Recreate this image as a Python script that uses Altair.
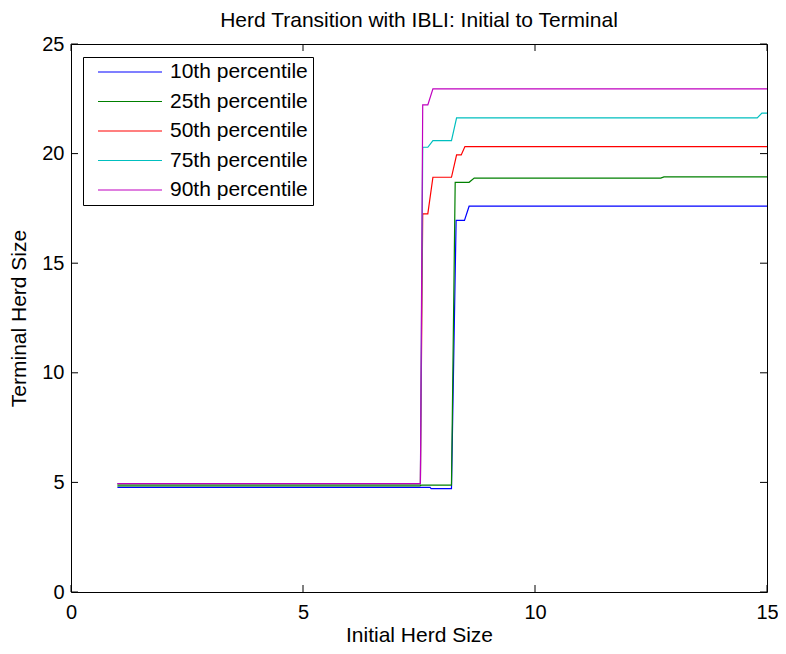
import altair as alt
import pandas as pd

# ---- data ----
series_names = ["10th percentile", "25th percentile", "50th percentile",
                "75th percentile", "90th percentile"]
series_colors = ["#0000ff", "#008000", "#ff0000", "#00bfbf", "#bf00bf"]

x_p10 = [1, 7.74, 7.76, 8.20, 8.30, 8.48, 8.58, 15]
y_p10 = [4.77, 4.77, 4.72, 4.72, 16.95, 16.95, 17.60, 17.60]

x_p25 = [1, 7.52, 7.56, 8.20, 8.28, 8.58, 8.69, 12.71, 12.78, 15]
y_p25 = [4.84, 4.84, 4.88, 4.88, 18.69, 18.69, 18.88, 18.88, 18.94, 18.94]

x_p50 = [1, 7.53, 7.58, 7.69, 7.80, 8.20, 8.31, 8.41, 8.49, 15]
y_p50 = [4.92, 4.92, 17.25, 17.25, 18.92, 18.92, 19.94, 19.94, 20.32, 20.32]

x_p75 = [1, 7.53, 7.58, 7.69, 7.80, 8.20, 8.31, 14.79, 14.89, 15]
y_p75 = [4.93, 4.93, 20.29, 20.29, 20.59, 20.59, 21.63, 21.63, 21.85, 21.85]

x_p90 = [1, 7.53, 7.58, 7.69, 7.80, 15]
y_p90 = [4.95, 4.95, 22.22, 22.22, 22.95, 22.95]

x_ticks = [0, 5, 10, 15]
y_ticks = [0, 5, 10, 15, 20, 25]

FONT = "Liberation Sans"
W, H = 696, 548
TICK = 7

rows = []
for name, xs, ys in zip(series_names,
                        [x_p10, x_p25, x_p50, x_p75, x_p90],
                        [y_p10, y_p25, y_p50, y_p75, y_p90]):
    for i, (a, b) in enumerate(zip(xs, ys)):
        rows.append({"series": name, "x": a, "y": b, "i": i})
df = pd.DataFrame(rows)

xscale = alt.Scale(domain=[0, 15], nice=False, zero=False)
yscale = alt.Scale(domain=[0, 25], nice=False, zero=False)

xaxis = alt.Axis(values=x_ticks, ticks=False, tickSize=0, domain=False, grid=False,
                 labelFlush=False, labelOverlap=False,
                 labelPadding=10, titlePadding=2, title="Initial Herd Size")
yaxis = alt.Axis(values=y_ticks, ticks=False, tickSize=0, domain=False, grid=False,
                 labelFlush=False, labelOverlap=False,
                 labelPadding=7, titlePadding=12, title="Terminal Herd Size")

lines = alt.Chart(df).mark_line(strokeWidth=1.2, interpolate="linear").encode(
    x=alt.X("x:Q", scale=xscale, axis=xaxis),
    y=alt.Y("y:Q", scale=yscale, axis=yaxis),
    color=alt.Color("series:N",
                    scale=alt.Scale(domain=series_names, range=series_colors),
                    legend=alt.Legend(title=None, orient="none", legendX=12, legendY=13,
                                      symbolType="stroke", symbolSize=4096,
                                      symbolStrokeWidth=1.2, clipHeight=20,
                                      rowPadding=8.5, labelOffset=7, symbolOffset=9,
                                      padding=5, strokeColor="black", fillColor="white",
                                      labelFontSize=21, labelFont=FONT, labelColor="black",
                                      labelLimit=400)),
    order="i:Q",
)

xt = pd.DataFrame({"v": x_ticks})
yt = pd.DataFrame({"v": y_ticks})
tick_style = dict(color="black", strokeWidth=1)

xt_bot = alt.Chart(xt).mark_rule(**tick_style).encode(
    x=alt.X("v:Q", scale=xscale), y=alt.value(H), y2=alt.value(H - TICK))
xt_top = alt.Chart(xt).mark_rule(**tick_style).encode(
    x=alt.X("v:Q", scale=xscale), y=alt.value(0), y2=alt.value(TICK))
yt_left = alt.Chart(yt).mark_rule(**tick_style).encode(
    y=alt.Y("v:Q", scale=yscale), x=alt.value(0), x2=alt.value(TICK))
yt_right = alt.Chart(yt).mark_rule(**tick_style).encode(
    y=alt.Y("v:Q", scale=yscale), x=alt.value(W), x2=alt.value(W - TICK))

chart = alt.layer(lines, xt_bot, xt_top, yt_left, yt_right).properties(
    width=W, height=H,
    background="white",
    title=alt.TitleParams("Herd Transition with IBLI: Initial to Terminal",
                          font=FONT, fontSize=21, fontWeight="normal", color="black",
                          offset=3),
    autosize=alt.AutoSizeParams(type="none"),
    padding={"left": 63, "top": 36, "right": 11, "bottom": 56},
).configure_view(stroke="black", strokeWidth=1).configure_axis(
    labelFont=FONT, labelFontSize=20, labelColor="black",
    titleFont=FONT, titleFontSize=21, titleFontWeight="normal", titleColor="black",
)

chart.save("out.html", embed_options={"renderer": "svg", "actions": False})
